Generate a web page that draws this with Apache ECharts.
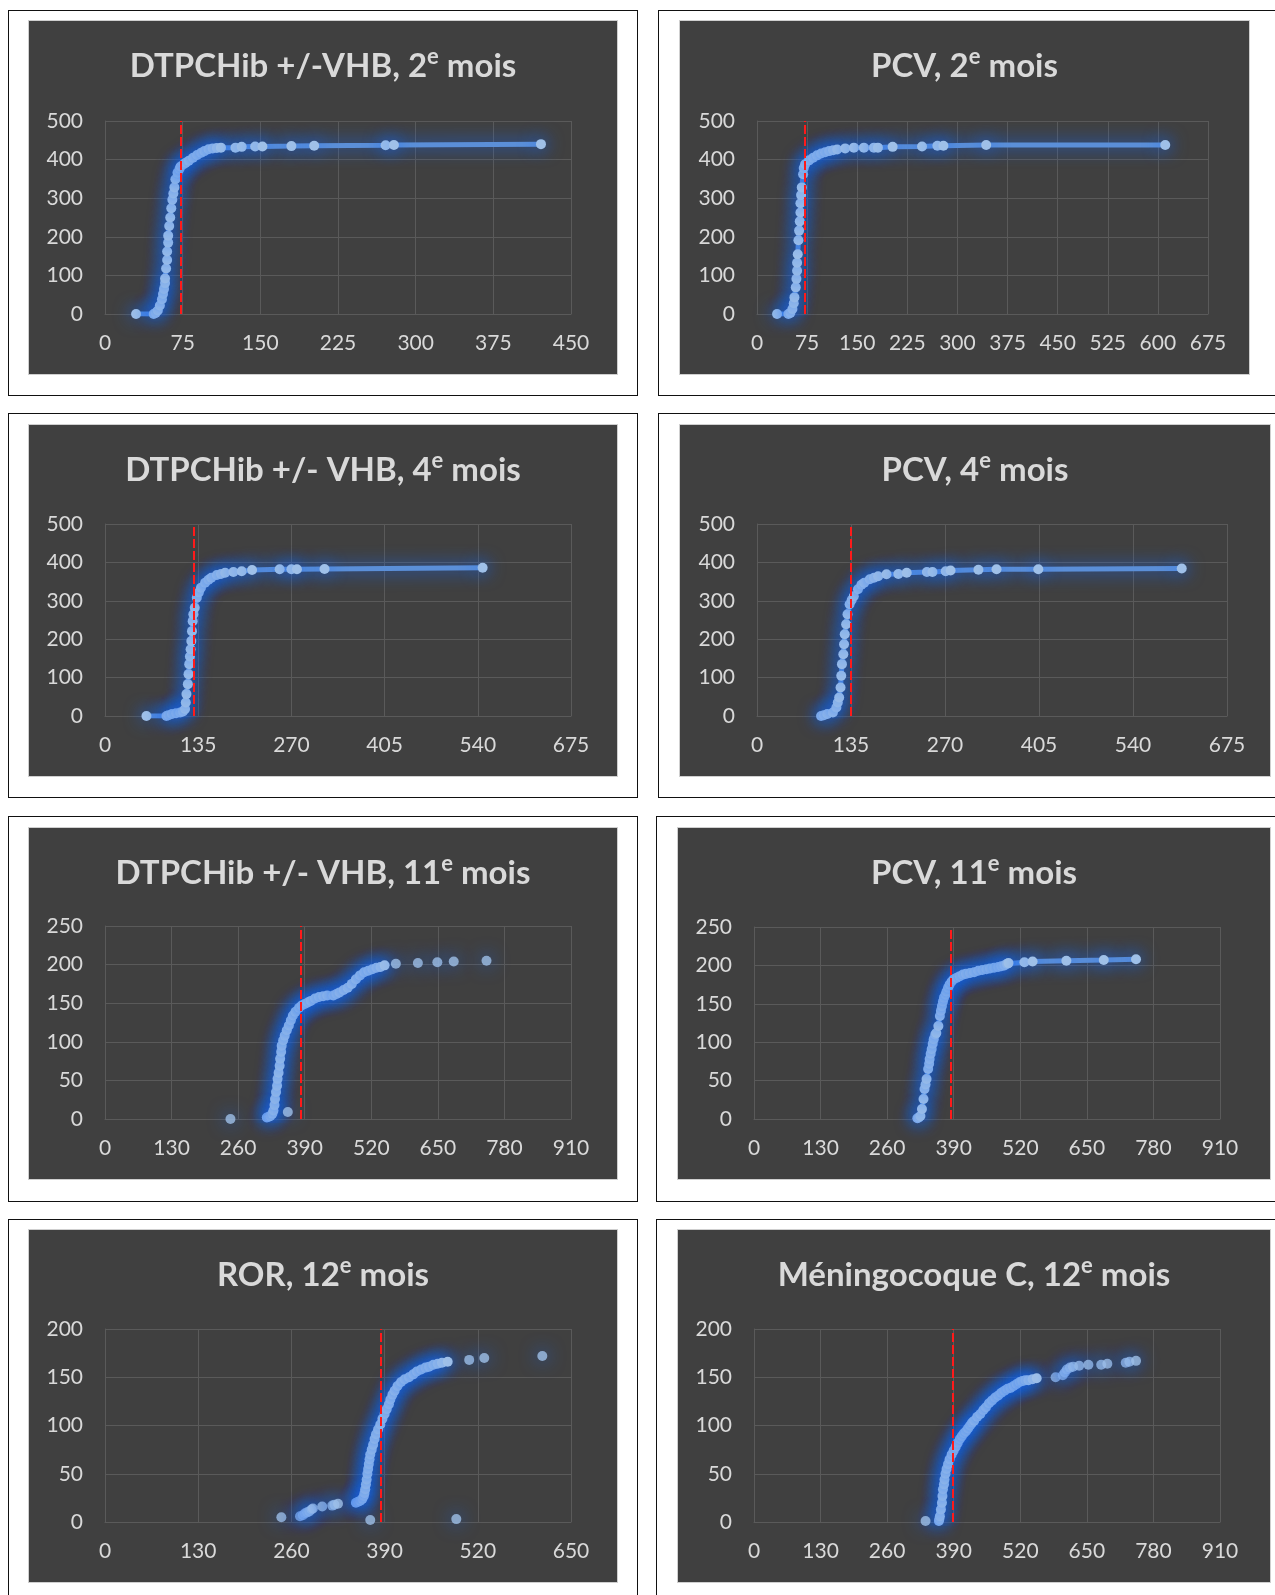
<!DOCTYPE html>
<html>
<head>
<meta charset="utf-8">
<script src="https://cdn.jsdelivr.net/npm/echarts@6/dist/echarts.min.js"></script>
<style>
  html, body { margin: 0; padding: 0; background: #fff; }
  body { position: relative; width: 1275px; height: 1595px; overflow: hidden; }
  .frame { position: absolute; border: 1px solid #111; box-sizing: border-box; background: #fff; }
  .panel { position: absolute; background: #404040; border: 1px solid #cfcfcf; box-sizing: border-box; }
</style>
</head>
<body>
<script>
// titles: text before the superscript, then after it
const titlePre = ["DTPCHib +/-VHB, 2", "PCV, 2", "DTPCHib +/- VHB, 4", "PCV, 4",
  "DTPCHib +/- VHB, 11", "PCV, 11", "ROR, 12", "Méningocoque C, 12"];
const titleSup = "e";
const titlePost = " mois";

// axis ticks
const xMax = [450, 675, 675, 675, 910, 910, 650, 910];
const xStep = [75, 75, 135, 135, 130, 130, 130, 130];
const yMax = [500, 500, 500, 500, 250, 250, 200, 200];
const yStep = [100, 100, 100, 100, 50, 50, 50, 50];

// red dashed reference line per chart
const cutoff = [73, 71, 129, 134, 382, 384, 385, 388];

// DTPCHib 2e mois
const dtp2Line = [[30,0],[47,0],[49,3],[51,9],[53,22],[55,38],[56,52],[57,65],[58,80],[58,92],[59,118],
  [60,140],[60,162],[61,185],[61,203],[62,228],[63,250],[64,274],[65,296],[66,312],[67,328],[68,349],
  [70,366],[72,376],[73,382],[76,388],[78,392],[81,397],[85,405],[89,412],[93,418],[96,422],[100,427],
  [104,429],[108,430],[112,431],[126,431],[132,433],[145,434],[152,434],[180,435],[202,436],[271,437],
  [279,438],[421,440]];
// PCV 2e mois
const pcv2Line = [[30,0],[47,0],[50,3],[53,13],[55,28],[56,43],[58,69],[59,91],[60,112],[60,133],[61,155],
  [62,191],[63,216],[64,240],[65,263],[65,287],[66,308],[67,328],[69,362],[70,378],[72,388],[78,398],
  [84,405],[90,411],[96,416],[102,419],[108,422],[114,424],[120,426],[132,429],[145,431],[160,431],
  [175,431],[181,431],[203,433],[247,434],[270,436],[279,436],[343,438],[611,438]];
// DTPCHib 4e mois
const dtp4Line = [[60,0],[89,0],[92,2],[97,5],[103,7],[109,9],[113,12],[116,18],[117,35],[118,57],[120,83],
  [121,109],[122,135],[123,155],[124,174],[125,195],[126,221],[127,247],[128,265],[130,282],[133,308],
  [136,322],[139,334],[145,347],[150,355],[154,360],[162,367],[168,370],[174,373],[186,375],[198,377],
  [213,380],[253,382],[270,382],[278,382],[318,383],[547,386]];
// PCV 4e mois
const pcv4Line = [[92,0],[96,2],[101,5],[109,9],[114,22],[116,35],[118,48],[120,74],[121,105],[122,135],
  [124,161],[125,187],[126,213],[128,239],[130,265],[133,291],[136,302],[139,312],[145,330],[150,342],
  [154,347],[162,356],[168,360],[174,364],[186,369],[203,370],[215,373],[244,375],[252,375],[271,377],
  [278,379],[318,381],[344,382],[404,382],[610,384]];
// DTPCHib 11e mois
const dtp11Line = [[316,2],[320,3],[323,4],[327,7],[329,11],[331,18],[332,26],[334,35],[336,43],[337,52],
  [339,60],[341,69],[342,78],[344,87],[345,95],[348,102],[351,108],[355,115],[359,121],[363,128],[367,134],
  [372,139],[379,144],[384,147],[390,149],[396,151],[402,153],[410,156],[418,158],[426,159],[434,160],
  [446,160],[452,162],[458,164],[466,167],[474,170],[482,175],[490,181],[498,186],[506,190],[514,192],
  [522,194],[530,196],[538,197],[546,199]];
const dtp11Dots = [[245,0],[357,9],[568,201],[611,202],[649,203],[681,204],[745,205]];
// PCV 11e mois
const pcv11Line = [[319,1],[322,2],[325,4],[328,13],[331,26],[333,39],[335,45],[337,52],[340,65],[342,72],
  [343,78],[345,85],[347,91],[349,98],[351,104],[354,110],[356,112],[360,121],[363,134],[365,141],[367,147],
  [369,153],[371,158],[374,162],[376,166],[379,171],[382,175],[386,179],[390,182],[396,184],[402,186],
  [408,188],[414,189],[422,190],[430,191],[438,193],[446,194],[454,195],[461,196],[469,197],[477,198],
  [483,199],[489,200],[494,202],[497,203],[528,204],[544,205],[610,206],[683,207],[746,208]];
// ROR 12e mois
const ror12Line = [[350,20],[353,21],[356,22],[359,24],[361,27],[362,30],[363,34],[364,39],[365,44],[366,50],
  [367,55],[368,60],[369,65],[370,70],[372,75],[374,80],[376,86],[378,91],[381,96],[384,101],[387,107],
  [390,112],[393,117],[396,122],[398,127],[401,132],[404,136],[408,141],[413,145],[418,148],[424,150],
  [430,153],[435,156],[441,158],[447,160],[452,161],[458,163],[464,164],[470,165],[478,166]];
const ror12Dots = [[246,5],[272,6],[276,7],[279,9],[282,10],[285,11],[288,13],[290,14],[303,16],[317,17],
  [320,18],[325,19],[370,2],[490,3],[508,168],[529,170],[610,172]];
// Méningocoque C 12e mois
const men12Line = [[361,1],[362,3],[363,6],[365,13],[367,20],[368,27],[369,34],[371,39],[372,44],[374,50],
  [376,55],[379,60],[382,65],[386,70],[390,74],[394,78],[398,82],[402,86],[406,89],[410,92],[414,94],
  [418,97],[422,100],[426,103],[430,105],[436,109],[442,112],[448,116],[453,119],[459,123],[465,126],
  [471,129],[477,131],[483,134],[489,136],[495,138],[501,139],[507,141],[513,143],[519,145],[524,146],
  [530,147],[536,147],[544,148],[552,149]];
const men12Dots = [[335,1],[589,150],[603,152],[607,155],[611,158],[617,160],[623,161],[635,162],[653,163],
  [678,163],[690,164],[726,165],[733,166],[746,167]];

const lines = [dtp2Line, pcv2Line, dtp4Line, pcv4Line, dtp11Line, pcv11Line, ror12Line, men12Line];
const dots = [[], [], [], [], dtp11Dots, [], ror12Dots, men12Dots];
// chart 5, 7, 8 dense parts are drawn as markers only (no connecting line)
const markersOnly = [false, false, false, false, true, false, true, true];

// page layout: white frames, dark chart boxes, plot rectangles inside them
const frames = [[8,10,630,386],[658,10,640,386],[8,413,630,385],[658,413,640,385],
  [8,816,630,386],[656,816,640,386],[8,1219,630,400],[656,1219,640,400]];
const boxes = [[28,20,590,355],[679,20,571,355],[28,424,590,353],[679,424,592,353],
  [28,827,590,353],[677,827,594,353],[28,1229,590,354],[677,1229,594,354]];
const plots = [[76,100,466,193],[77,100,451,193],[76,99,466,192],[77,99,470,192],
  [76,98,466,193],[76,99,466,192],[76,99,466,193],[76,99,466,193]];

const textColor = "#d9d9d9";
const gridColor = "#5a5a5a";
const glow = "rgba(20,105,255,1)";
const dotColor = "#9fc0e8";

frames.forEach((f) => {
  const d = document.createElement("div");
  d.className = "frame";
  d.style.cssText = `left:${f[0]}px;top:${f[1]}px;width:${f[2]}px;height:${f[3]}px;`;
  document.body.appendChild(d);
});

boxes.forEach((b, i) => {
  const d = document.createElement("div");
  d.className = "panel";
  d.id = "chart" + i;
  d.style.cssText = `left:${b[0]}px;top:${b[1]}px;width:${b[2]}px;height:${b[3]}px;`;
  document.body.appendChild(d);

  const chart = echarts.init(d);
  const p = plots[i];
  const series = [
    {
      type: "line",
      data: lines[i],
      symbol: "circle",
      symbolSize: 10,
      z: 3,
      lineStyle: markersOnly[i]
        ? { width: 8, color: dotColor, shadowColor: glow, shadowBlur: 18 }
        : { width: 5, color: "#5b8fd8", shadowColor: glow, shadowBlur: 18 },
      itemStyle: { color: dotColor, borderWidth: 0, shadowColor: glow, shadowBlur: 18 },
      markLine: {
        silent: true,
        symbol: ["none", "none"],
        label: { show: false },
        lineStyle: { color: "#ff1a1a", type: [9, 3], width: 2 },
        data: [{ xAxis: cutoff[i] }],
        z: 10,
      },
    },
  ];
  if (dots[i].length) {
    series.push({
      type: "scatter",
      data: dots[i],
      symbol: "circle",
      symbolSize: 10,
      z: 3,
      itemStyle: { color: dotColor, shadowColor: glow, shadowBlur: 18 },
    });
  }

  chart.setOption({
    animation: false,
    title: {
      text: `{t|${titlePre[i]}}{s|${titleSup}}{t|${titlePost}}`,
      left: "center",
      top: 20,
      textStyle: {
        rich: {
          t: { fontFamily: "Lato", fontWeight: "bold", fontSize: 33, color: textColor, lineHeight: 40 },
          s: { fontFamily: "Lato", fontWeight: "bold", fontSize: 22, color: textColor, lineHeight: 24, verticalAlign: "top" },
        },
      },
    },
    grid: { left: p[0], top: p[1], width: p[2], height: p[3] },
    xAxis: {
      type: "value",
      min: 0,
      max: xMax[i],
      interval: xStep[i],
      axisLine: { show: true, lineStyle: { color: gridColor } },
      axisTick: { show: false },
      splitLine: { show: true, lineStyle: { color: gridColor } },
      axisLabel: { color: textColor, fontFamily: "Lato", fontSize: 21, margin: 19, showMinLabel: true, showMaxLabel: true },
    },
    yAxis: {
      type: "value",
      min: 0,
      max: yMax[i],
      interval: yStep[i],
      axisLine: { show: true, lineStyle: { color: gridColor } },
      axisTick: { show: false },
      splitLine: { show: true, lineStyle: { color: gridColor } },
      axisLabel: { color: textColor, fontFamily: "Lato", fontSize: 21, margin: 22 },
    },
    series: series,
  });
});
</script>
</body>
</html>
